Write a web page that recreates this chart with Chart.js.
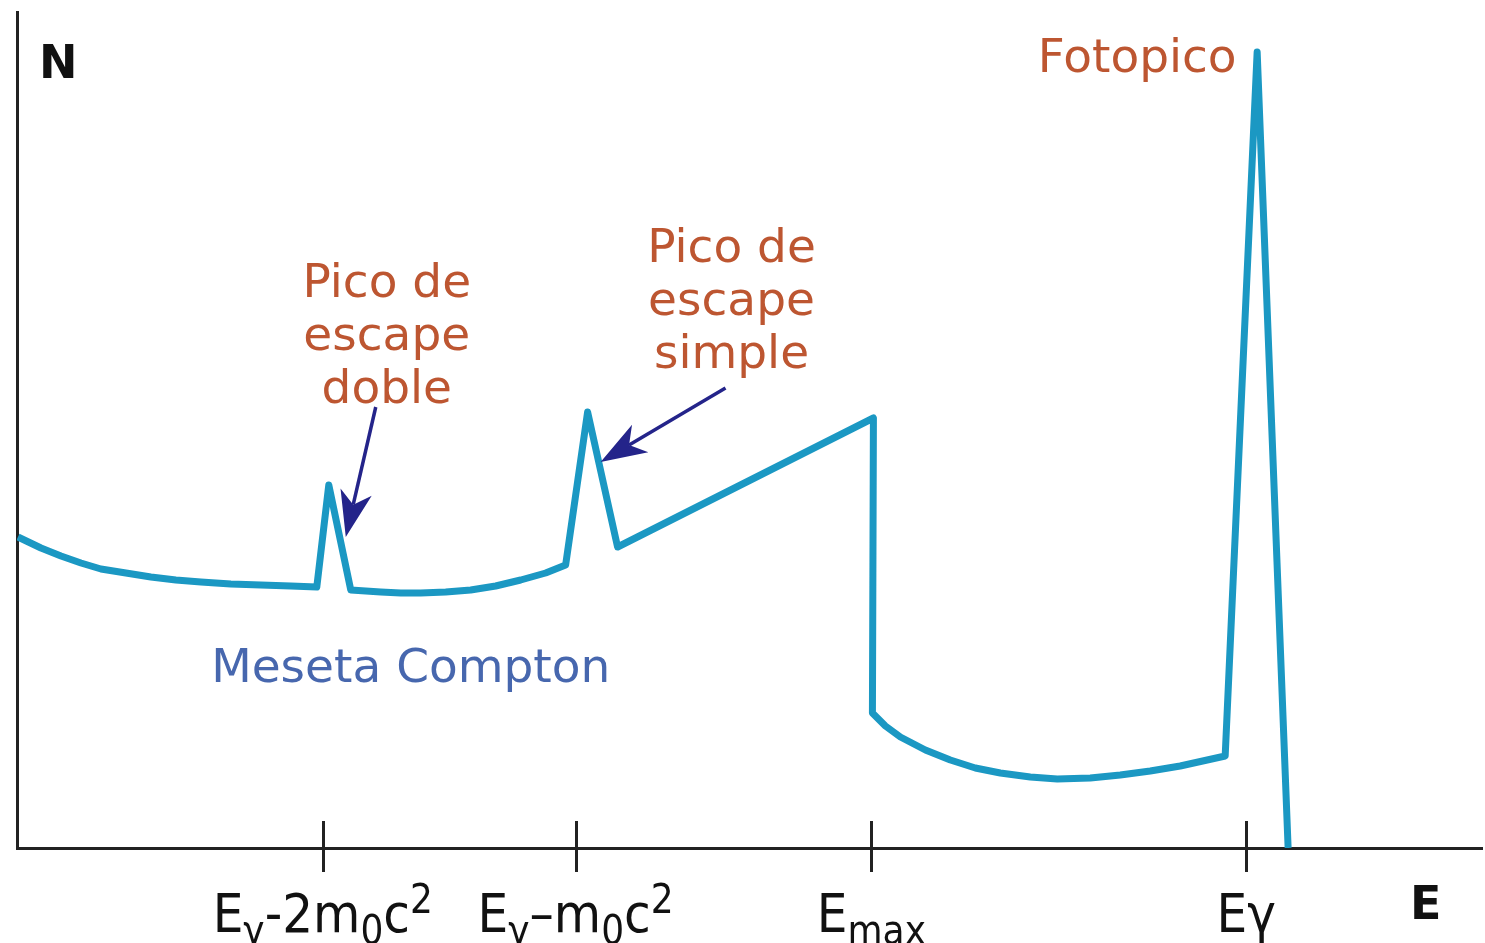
<!DOCTYPE html>
<html>
<head>
<meta charset="utf-8">
<script src="https://cdn.jsdelivr.net/npm/chart.js@4.4.1/dist/chart.umd.min.js"></script>
<style>
  html, body { margin: 0; padding: 0; background: #fff; }
  .wrap { width: 1485px; height: 943px; position: relative; }
</style>
</head>
<body>
<div class="wrap"><canvas id="spectrum"></canvas></div>
<script>
// energy (arbitrary units) and counts
const energy = [1, 24, 44, 64, 84, 109, 134, 159, 184, 214, 244, 274, 300,
  312, 334,
  349, 364, 384, 404, 429, 454, 479, 504, 529, 549,
  571, 601, 857,
  856, 869, 884, 909, 934, 959, 984, 1014, 1041, 1074, 1104, 1134, 1164, 1209,
  1241, 1272];
const counts = [311, 300, 292, 285, 279, 275, 271, 268, 266, 264, 263, 262, 261,
  363, 258,
  257, 256, 255, 255, 256, 258, 262, 268, 275, 283,
  436, 301, 430,
  135, 122, 111, 98, 88, 80, 75, 71, 69, 70, 73, 77, 82, 92,
  796, 0];

const tickEnergy = [306, 559, 855, 1230];
// each label: [text, "base" | "sub" | "sup"]
const tickLabels = [
  [["E", "base"], ["γ", "sub"], ["-2m", "base"], ["0", "sub"], ["c", "base"], ["2", "sup"]],
  [["E", "base"], ["γ", "sub"], ["–m", "base"], ["0", "sub"], ["c", "base"], ["2", "sup"]],
  [["E", "base"], ["max", "sub"]],
  [["Eγ", "base"]]
];

const FONT = "'DejaVu Sans', Verdana, sans-serif";
const COND = "'DejaVu Sans Condensed', 'DejaVu Sans', sans-serif";
const BROWN = "#bd5631";
const NAVY = "#24248a";

const annotations = [
  { lines: ["Fotopico"], x: 1121, y: 788, color: BROWN },
  { lines: ["Pico de", "escape", "doble"], x: 370, y: 563, color: BROWN },
  { lines: ["Pico de", "escape", "simple"], x: 715, y: 598, color: BROWN },
  { lines: ["Meseta Compton"], x: 394, y: 178, color: "#4767ae" }
];
const arrows = [
  { from: [359, 441], to: [329, 311] },
  { from: [709, 460], to: [584, 386] }
];

const overlay = {
  id: "overlay",
  afterDraw(chart) {
    const ctx = chart.ctx;
    const xs = chart.scales.x, ys = chart.scales.y;
    const axisY = ys.getPixelForValue(0);
    ctx.save();

    // tick marks crossing the energy axis
    ctx.strokeStyle = "#222";
    ctx.lineWidth = 3;
    tickEnergy.forEach(function (e) {
      const px = Math.round(xs.getPixelForValue(e)) + 0.5;
      ctx.beginPath();
      ctx.moveTo(px, axisY - 27);
      ctx.lineTo(px, axisY + 24);
      ctx.stroke();
    });

    // tick labels with sub/superscripts
    ctx.fillStyle = "#111";
    ctx.textBaseline = "alphabetic";
    ctx.textAlign = "left";
    const sizes = { base: 54, sub: 40, sup: 40 };
    const shift = { base: 0, sub: 12, sup: -19 };
    tickEnergy.forEach(function (e, i) {
      const parts = tickLabels[i];
      let w = 0;
      parts.forEach(function (p) {
        ctx.font = sizes[p[1]] + "px " + COND;
        w += ctx.measureText(p[0]).width;
      });
      let cx = xs.getPixelForValue(e) - w / 2;
      parts.forEach(function (p) {
        ctx.font = sizes[p[1]] + "px " + COND;
        ctx.fillText(p[0], cx, axisY + 84 + shift[p[1]]);
        cx += ctx.measureText(p[0]).width;
      });
    });

    // axis letters
    ctx.font = "bold 46px " + FONT;
    ctx.fillText("N", 39, 78);
    ctx.fillText("E", 1410, 919);

    // text annotations
    ctx.textAlign = "center";
    ctx.textBaseline = "middle";
    ctx.font = "47px " + FONT;
    annotations.forEach(function (a) {
      ctx.fillStyle = a.color;
      const x = xs.getPixelForValue(a.x);
      const y0 = ys.getPixelForValue(a.y);
      a.lines.forEach(function (t, k) {
        ctx.fillText(t, x, y0 + k * 53);
      });
    });

    // arrows
    ctx.strokeStyle = NAVY;
    ctx.fillStyle = NAVY;
    ctx.lineWidth = 3.5;
    arrows.forEach(function (a) {
      const x1 = xs.getPixelForValue(a.from[0]), y1 = ys.getPixelForValue(a.from[1]);
      const x2 = xs.getPixelForValue(a.to[0]), y2 = ys.getPixelForValue(a.to[1]);
      const ang = Math.atan2(y2 - y1, x2 - x1);
      const len = 46, half = 16;
      const bx = x2 - len * Math.cos(ang), by = y2 - len * Math.sin(ang);
      const nx = x2 - 0.72 * len * Math.cos(ang), ny = y2 - 0.72 * len * Math.sin(ang);
      ctx.beginPath();
      ctx.moveTo(x1, y1);
      ctx.lineTo(nx, ny);
      ctx.stroke();
      ctx.beginPath();
      ctx.moveTo(x2, y2);
      ctx.lineTo(bx + half * Math.sin(ang), by - half * Math.cos(ang));
      ctx.lineTo(nx, ny);
      ctx.lineTo(bx - half * Math.sin(ang), by + half * Math.cos(ang));
      ctx.closePath();
      ctx.fill();
    });
    ctx.restore();
  }
};

const points = energy.map(function (e, i) {
  return { x: e, y: counts[i] };
});

new Chart(document.getElementById("spectrum").getContext("2d"), {
  type: "line",
  data: {
    datasets: [
      {
        label: "N",
        data: points,
        borderColor: "#1b98c3",
        borderWidth: 7,
        borderJoinStyle: "round",
        pointRadius: 0,
        tension: 0,
        fill: false,
      },
    ],
  },
  options: {
    responsive: true,
    maintainAspectRatio: false,
    animation: false,
    layout: { padding: { left: 9, top: 12, right: 3, bottom: 87 } },
    plugins: { legend: { display: false }, tooltip: { enabled: false } },
    scales: {
      x: {
        type: "linear",
        min: 0,
        max: 1466,
        grid: { display: false },
        ticks: { display: false },
        border: { display: true, color: "#222", width: 3 },
      },
      y: {
        min: 0,
        max: 836,
        grid: { display: false },
        ticks: { display: false },
        border: { display: true, color: "#222", width: 3 },
      },
    },
  },
  plugins: [overlay],
});
</script>
</body>
</html>
